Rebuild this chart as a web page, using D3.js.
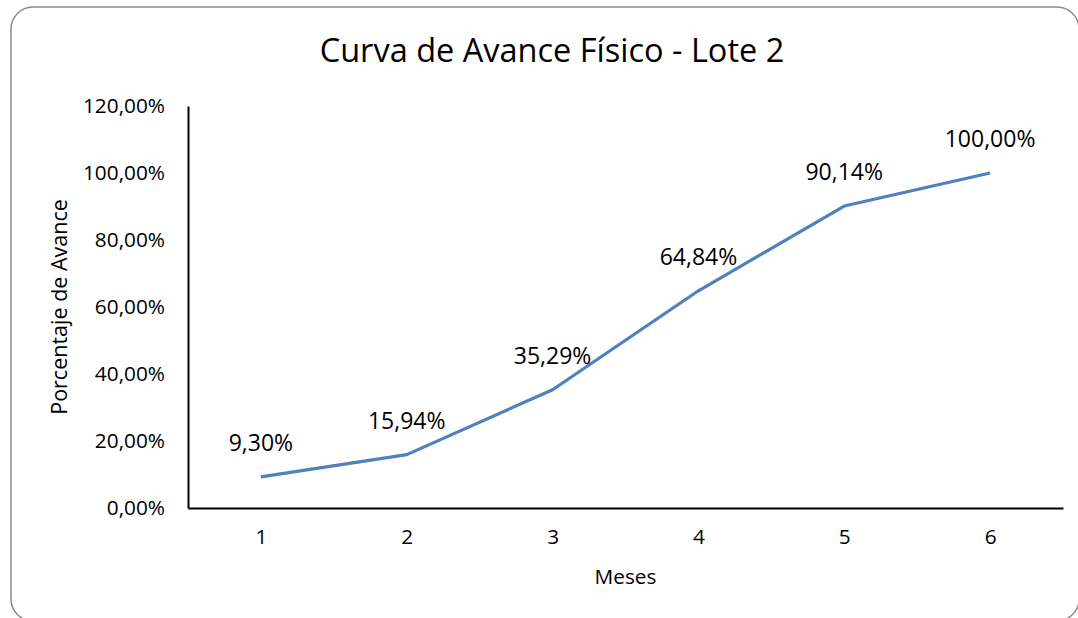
<!DOCTYPE html>
<html>
<head>
<meta charset="utf-8">
<script src="https://cdn.jsdelivr.net/npm/d3@7"></script>
<style>
  html, body { margin: 0; padding: 0; background: #fff; }
  svg { display: block; }
  text { font-family: "Open Sans", "Noto Sans", sans-serif; fill: #000; }
</style>
</head>
<body>
<svg id="chart" width="1078" height="618"></svg>
<script>
// Monthly cumulative physical progress (fraction of total)
const months = [1, 2, 3, 4, 5, 6];
const progress = [0.0930, 0.1594, 0.3529, 0.6484, 0.9014, 1.0000];
const yTicks = [0, 0.2, 0.4, 0.6, 0.8, 1.0, 1.2];
const chartTitle = "Curva de Avance Físico - Lote 2";
const xTitle = "Meses";
const yTitle = "Porcentaje de Avance";

const svg = d3.select("#chart");
const plot = { left: 188, right: 1063, top: 106, bottom: 508 };

// Outer frame with rounded corners
svg.append("rect")
  .attr("x", 11).attr("y", 7)
  .attr("width", 1068).attr("height", 614)
  .attr("rx", 22).attr("ry", 22)
  .attr("fill", "#fff")
  .attr("stroke", "#8c8c8c")
  .attr("stroke-width", 1.5);

const x = d3.scalePoint().domain(months).range([plot.left, plot.right]).padding(0.5);
const y = d3.scaleLinear().domain([0, 1.2]).range([plot.bottom, plot.top]);

const fmtPct = v => (v * 100).toFixed(2).replace(".", ",") + "%";

// Title
svg.append("text")
  .attr("x", 552).attr("y", 62)
  .attr("text-anchor", "middle")
  .style("font-size", "32.5px")
  .text(chartTitle);

// Y axis
const yAxis = svg.append("g")
  .attr("transform", `translate(${plot.left},0)`)
  .call(d3.axisLeft(y).tickValues(yTicks).tickFormat(fmtPct).tickSize(0).tickPadding(23));
yAxis.select(".domain").attr("stroke", "#000").attr("stroke-width", 2);
yAxis.selectAll("text").style("font-size", "20.8px").style("font-family", '"Open Sans", sans-serif');

// X axis
const xAxis = svg.append("g")
  .attr("transform", `translate(0,${plot.bottom})`)
  .call(d3.axisBottom(x).tickSize(0).tickPadding(21));
xAxis.select(".domain").attr("stroke", "#000").attr("stroke-width", 2);
xAxis.selectAll("text").style("font-size", "20.8px").style("font-family", '"Open Sans", sans-serif');

// Axis titles
svg.append("text")
  .attr("x", (plot.left + plot.right) / 2).attr("y", 584)
  .attr("text-anchor", "middle")
  .style("font-size", "20.8px")
  .text(xTitle);

svg.append("text")
  .attr("transform", `translate(67,${(plot.top + plot.bottom) / 2}) rotate(-90)`)
  .attr("text-anchor", "middle")
  .style("font-size", "21.5px")
  .text(yTitle);

// Progress curve
const data = months.map((m, i) => ({ m, v: progress[i] }));
svg.append("path")
  .datum(data)
  .attr("fill", "none")
  .attr("stroke", "#4f81bd")
  .attr("stroke-width", 3.2)
  .attr("stroke-linejoin", "round")
  .attr("d", d3.line().x(d => x(d.m)).y(d => y(d.v)));

// Value labels
svg.append("g").selectAll("text")
  .data(data)
  .join("text")
  .attr("x", d => x(d.m))
  .attr("y", d => y(d.v) - 26)
  .attr("text-anchor", "middle")
  .style("font-size", "23px")
  .text(d => fmtPct(d.v));
</script>
</body>
</html>
